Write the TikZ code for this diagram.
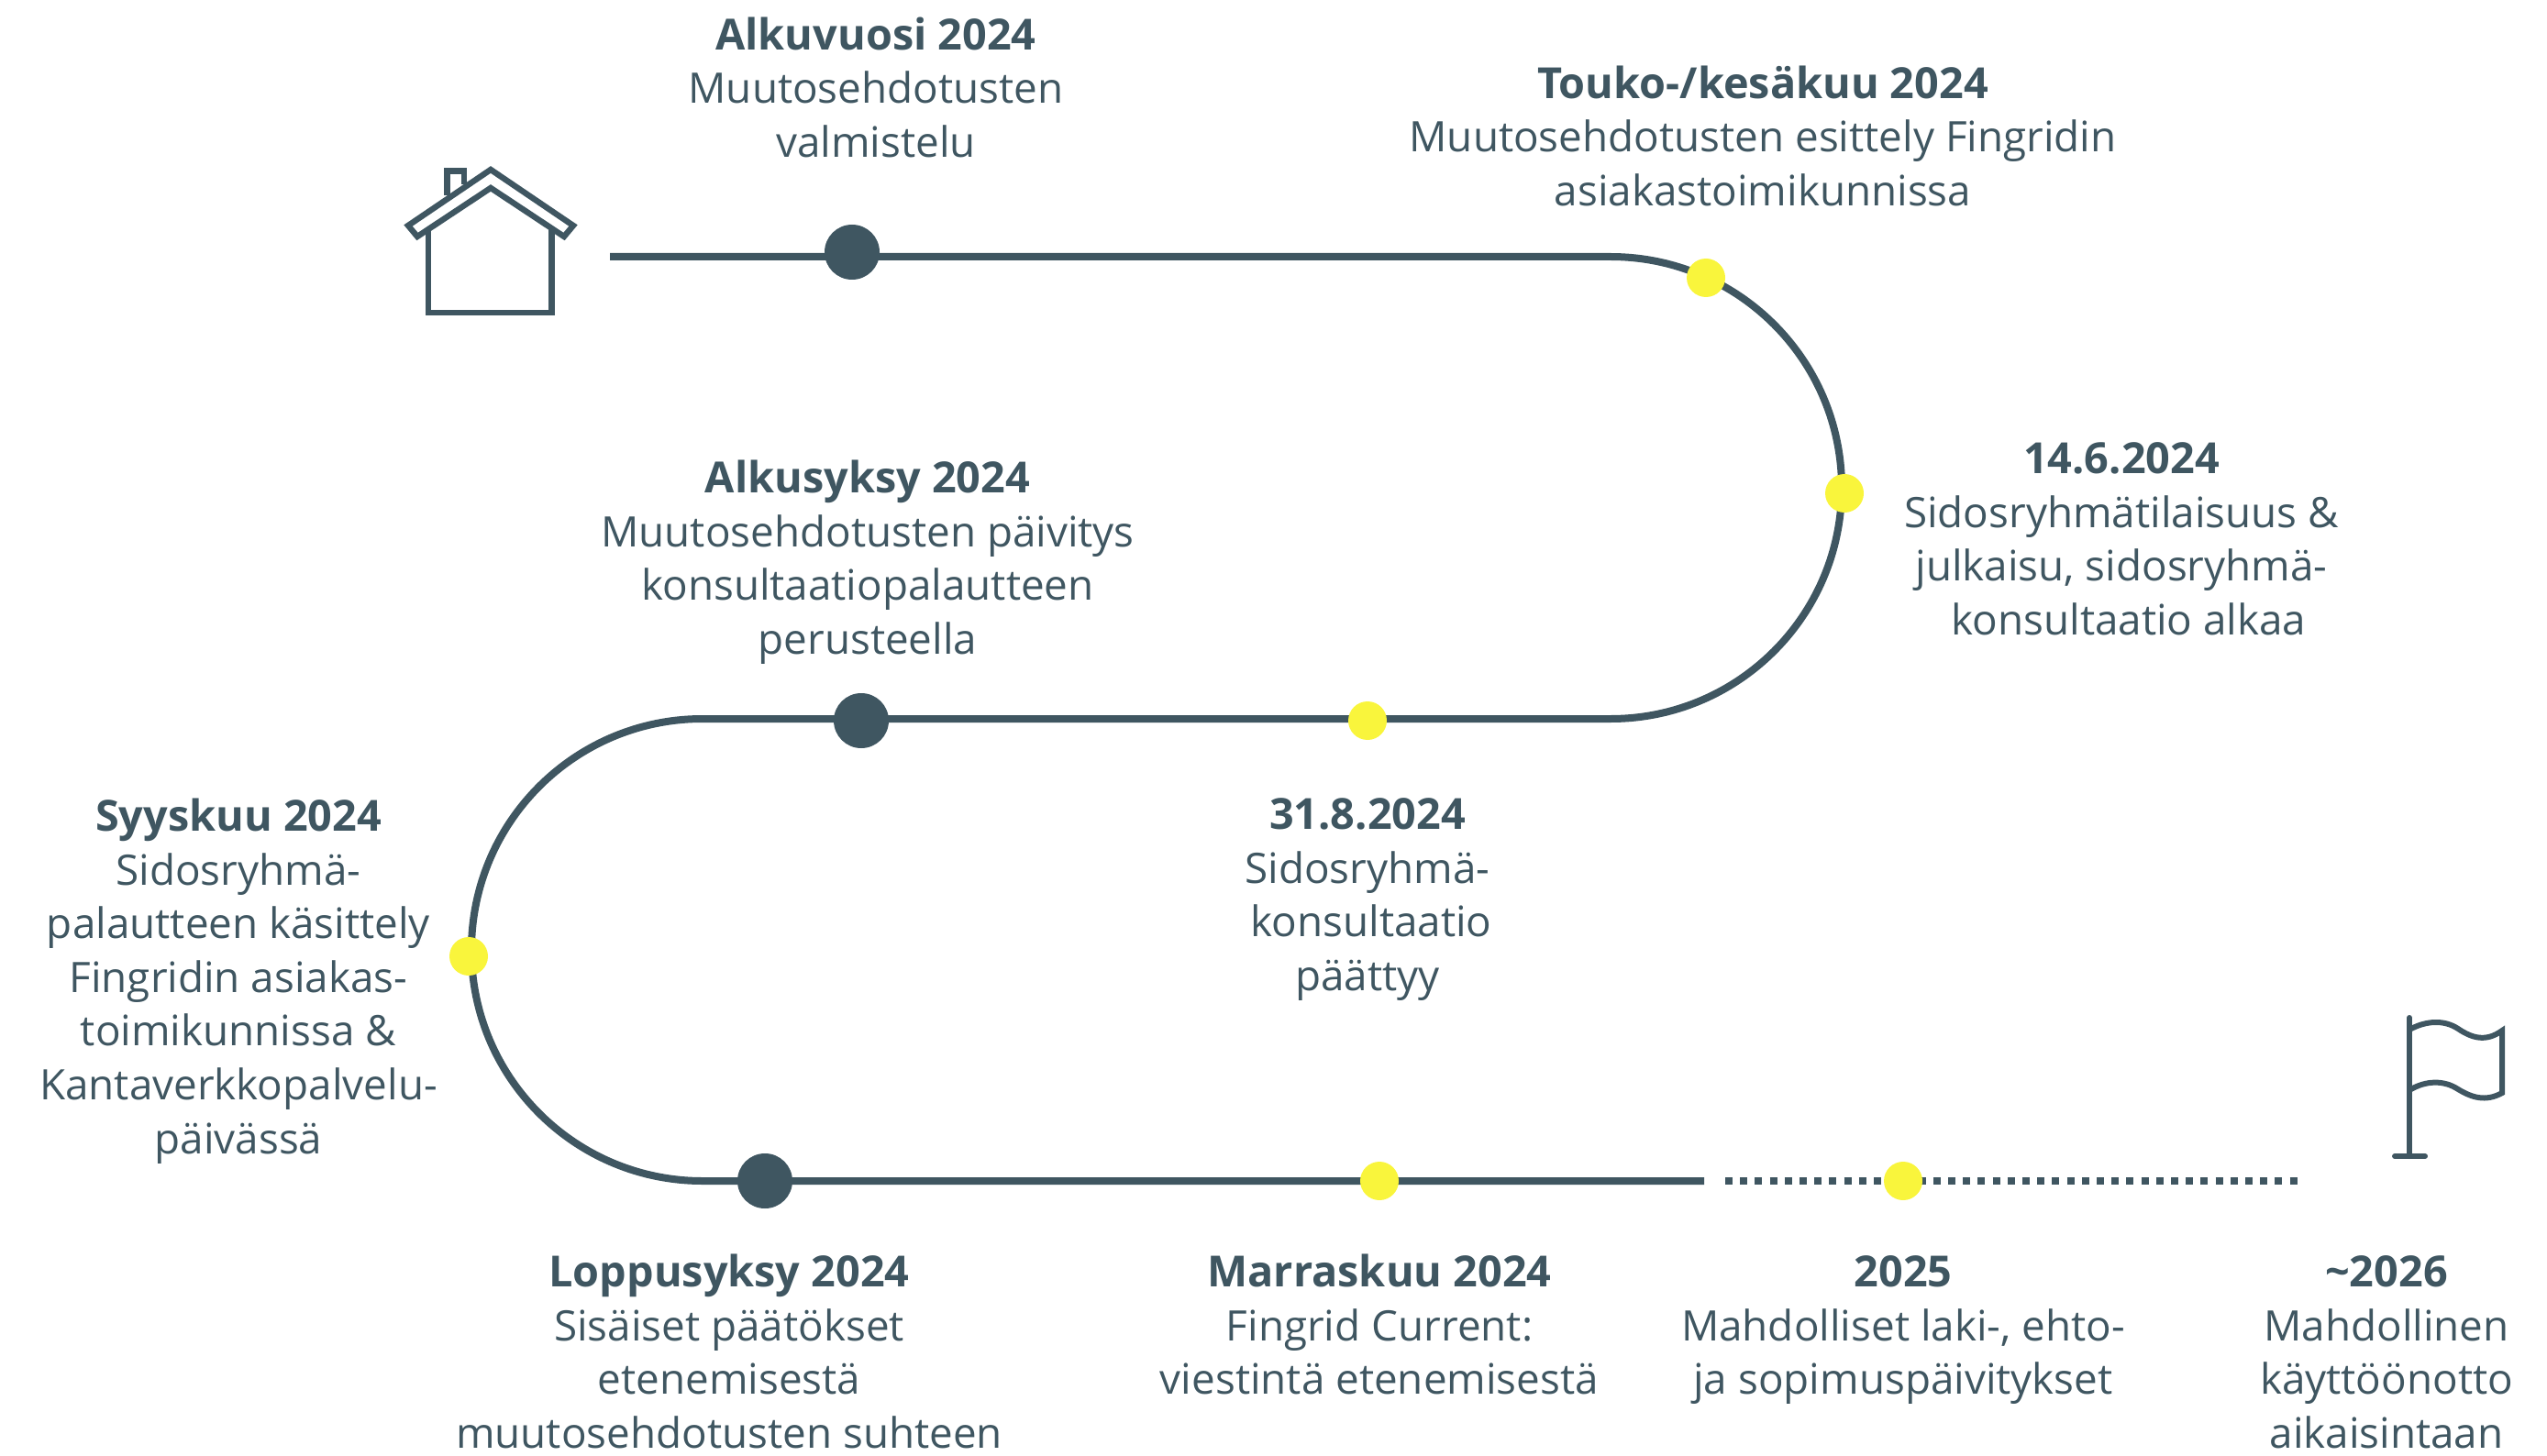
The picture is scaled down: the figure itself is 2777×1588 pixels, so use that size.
\documentclass[tikz,border=0pt]{standalone}
\usepackage{fontspec}
\setmainfont{Open Sans}
\definecolor{slate}{HTML}{3F5661}
\definecolor{sun}{HTML}{F9F53C}
\tikzset{
  x=0.5pt,y=-0.5pt,
  road/.style={draw=slate,line width=4pt},
  roaddots/.style={draw=slate,line width=4pt,dash pattern=on 4pt off 4.1pt},
  bigdot/.style={circle,fill=slate,minimum size=30pt,inner sep=0pt},
  smalldot/.style={circle,fill=sun,minimum size=21pt,inner sep=0pt},
  icon/.style={draw=slate,line width=3.2pt,miter limit=10},
  flagline/.style={draw=slate,line width=3pt,line cap=round},
  info/.style={anchor=north,inner sep=0pt,align=center,text=slate,font=\fontsize{22.9}{29.3}\selectfont},
}
\newcommand{\hd}[1]{\rule{0pt}{22pt}{\fontsize{23.4}{29.3}\selectfont\textbf{#1}}}
\begin{document}
\begin{tikzpicture}
\useasboundingbox (0,0) rectangle (2777,1588);
% road
\coordinate (s) at (665,280);
\coordinate (a1) at (1756,280);
\coordinate (a2) at (1756,784);
\coordinate (b1) at (766,784);
\coordinate (b2) at (766,1288);
\coordinate (e) at (1858,1288);
\coordinate (d1) at (1881,1288);
\coordinate (d2) at (2506,1288);
\draw[road] (s) -- (a1) arc[start angle=90,end angle=-90,radius=126pt] -- (b1) arc[start angle=90,end angle=270,radius=126pt] -- (e);
\draw[roaddots] (d1) -- (d2);
% dots
\node[bigdot] (p1) at (929,275) {};
\node[bigdot] (p2) at (939,786) {};
\node[bigdot] (p3) at (834,1288) {};
\node[smalldot] (y1) at (1860,303) {};
\node[smalldot] (y2) at (2011,538) {};
\node[smalldot] (y3) at (1491,786) {};
\node[smalldot] (y4) at (511,1043) {};
\node[smalldot] (y5) at (1504,1288) {};
\node[smalldot] (y6) at (2075,1288) {};
% house
\draw[icon] (535,185) -- (445,246) -- (455,258) -- (535,205) -- (615,258) -- (625,246) -- cycle;
\draw[icon] (467,250) -- (467,341) -- (601.5,341) -- (601.5,250);
\draw[icon] (487.5,213) -- (487.5,186.5) -- (506,186.5) -- (506,201);
% flag
\draw[flagline] (2627,1110) -- (2627,1261);
\draw[flagline] (2611,1261) -- (2644,1261);
\draw[flagline,line cap=butt] (2627,1123) .. controls (2645,1113) and (2665,1112) .. (2680,1122) .. controls (2695,1132) and (2710,1137) .. (2728,1124) -- (2728,1192) .. controls (2710,1202) and (2695,1197) .. (2680,1188) .. controls (2665,1178) and (2645,1178) .. (2627,1189);
% labels
\node[info] (t1) at (955,10) {\hd{Alkuvuosi 2024}\\Muutosehdotusten\\valmistelu};
\node[info] (t2) at (1922,63) {\hd{Touko-/kesäkuu 2024}\\Muutosehdotusten esittely Fingridin\\asiakastoimikunnissa};
\node[info] (t3) at (2313,472) {\hd{14.6.2024}\\Sidosryhmätilaisuus \&\\julkaisu, sidosryhmä-\\\hspace*{8pt}konsultaatio alkaa};
\node[info] (t4) at (946,493) {\hd{Alkusyksy 2024}\\Muutosehdotusten päivitys\\konsultaatiopalautteen\\perusteella};
\node[info] (t5) at (1491,860) {\hd{31.8.2024}\\Sidosryhmä-\\\hspace*{4pt}konsultaatio\\päättyy};
\node[info] (t6) at (260,862) {\hd{Syyskuu 2024}\\Sidosryhmä-\\palautteen käsittely\\Fingridin asiakas-\\toimikunnissa \&\\Kantaverkkopalvelu-\\päivässä};
\node[info] (t7) at (795,1359) {\hd{Loppusyksy 2024}\\Sisäiset päätökset\\etenemisestä\\muutosehdotusten suhteen};
\node[info] (t8) at (1504,1359) {\hd{Marraskuu 2024}\\Fingrid Current:\\viestintä etenemisestä};
\node[info] (t9) at (2075,1359) {\hd{2025}\\Mahdolliset laki-, ehto-\\ja sopimuspäivitykset};
\node[info] (t10) at (2602,1359) {\hd{\textasciitilde2026}\\Mahdollinen\\käyttöönotto\\aikaisintaan};
\end{tikzpicture}
\end{document}
